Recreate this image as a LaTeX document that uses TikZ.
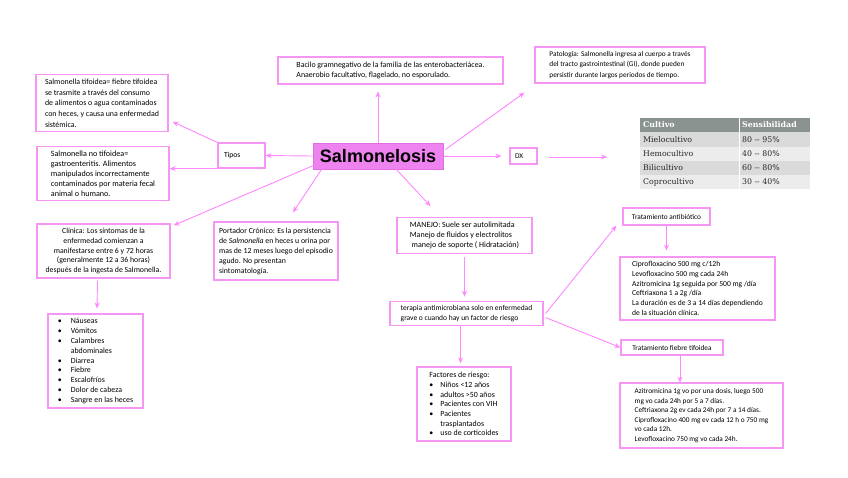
\documentclass[tikz,border=0pt]{standalone}
\usepackage{fontspec}
\setmainfont{Carlito}
\newfontfamily\titlefont{Liberation Sans}
\newfontfamily\tabfont{DejaVu Serif}
\usetikzlibrary{arrows.meta,calc}
\definecolor{boxpink}{RGB}{245,150,245}
\definecolor{linepink}{RGB}{255,135,255}
\definecolor{salfill}{RGB}{238,130,238}
\definecolor{salborder}{RGB}{225,110,225}
\definecolor{thead}{RGB}{138,147,143}
\definecolor{trowa}{RGB}{218,218,218}
\definecolor{trowb}{RGB}{236,236,236}
\newcommand{\bul}[1]{\makebox[#1][l]{\textbullet}}
\newcommand{\fs}[2]{\fontsize{#1}{#2}\selectfont}
\begin{document}
\begin{tikzpicture}[x=1pt,y=-1pt,
  box/.style={draw=boxpink, line width=1.2pt, fill=white, font=\fs{7.3}{10.5}, align=left, inner sep=4pt},
  con/.style={draw=linepink, line width=0.9pt, -{Stealth[length=6pt,width=5pt]}},
  cell/.style={font=\tabfont\fs{7.8}{8}, anchor=west, inner sep=0pt, text=black!85},
  hcell/.style={font=\tabfont\bfseries\fs{7.9}{8}, anchor=west, inner sep=0pt, text=white}
]
\useasboundingbox (0,0) rectangle (848,477);
\fill[white] (0,0) rectangle (848,477);

% central node
\node[draw=salborder, line width=1pt, fill=salfill, minimum width=130pt, minimum height=26pt,
      font=\titlefont\bfseries\fs{18}{20}] (sal) at (378,156) {Salmonelosis};

% boxes
\node[box, minimum width=132pt, minimum height=56pt, font=\fs{7.9}{10.7}] (tif) at (102,103)
 {Salmonella tifoidea= fiebre tifoidea\\
  se trasmite a través del consumo\\
  de alimentos o agua contaminados\\
  con heces, y causa una enfermedad\\
  sistémica.};
\node[box, minimum width=132pt, minimum height=53pt, font=\fs{8.1}{10}] (notif) at (103,173.5)
 {Salmonella no tifoidea=\\
  gastroenteritis. Alimentos\\
  manipulados incorrectamente\\
  contaminados por materia fecal\\
  animal o humano.};
\node[box, minimum width=47pt, minimum height=25pt, text width=35pt, font=\fs{7.6}{9}] (tipos) at (241.5,155.5) {Tipos};
\node[box, minimum width=225pt, minimum height=27pt, font=\fs{7.9}{10}] (bac) at (390.5,70.5)
 {Bacilo gramnegativo de la familia de las enterobacteriácea.\\
  Anaerobio facultativo, flagelado, no esporulado.};
\node[box, minimum width=170pt, minimum height=36pt] (pat) at (620,65)
 {Patología: Salmonella ingresa al cuerpo a través\\
  del tracto gastrointestinal (GI), donde pueden\\
  persistir durante largos periodos de tiempo.};
\node[box, minimum width=27pt, minimum height=16pt, text width=17pt] (dx) at (523.5,156) {DX};
\node[box, align=center, minimum width=133pt, minimum height=54pt, font=\fs{7.8}{9.8}] (clin) at (103.5,251)
 {Clínica: Los síntomas de la\\
  enfermedad comienzan a\\
  manifestarse entre 6 y 72 horas\\
  (generalmente 12 a 36 horas)\\
  después de la ingesta de Salmonella.};
\node[box, minimum width=95pt, minimum height=92pt, font=\fs{7.9}{9.9}] (symp) at (95.5,361)
 {\bul{13pt}Náuseas\\
  \bul{13pt}Vómitos\\
  \bul{13pt}Calambres\\
  \hspace*{13pt}abdominales\\
  \bul{13pt}Diarrea\\
  \bul{13pt}Fiebre\\
  \bul{13pt}Escalofríos\\
  \bul{13pt}Dolor de cabeza\\
  \bul{13pt}Sangre en las heces};
\node[box, minimum width=124pt, minimum height=58pt, font=\fs{7.8}{10}] (port) at (276,251)
 {Portador Crónico: Es la persistencia\\
  de \textit{Salmonella} en heces u orina por\\
  mas de 12 meses luego del episodio\\
  agudo. No presentan\\
  sintomatología.};
\node[box, minimum width=135pt, minimum height=35pt, font=\fs{8}{10.3}] (man) at (464.5,235.5)
 {MANEJO: Suele ser autolimitada\\
  Manejo de fluidos y electrolitos\\
  \ manejo de soporte ( Hidratación)};
\node[box, minimum width=153pt, minimum height=23pt, font=\fs{7.5}{10}] (ter) at (466.5,313.5)
 {terapia antimicrobiana solo en enfermedad\\
  grave o cuando hay un factor de riesgo};
\node[box, minimum width=94pt, minimum height=74pt, font=\fs{7.9}{9.7}] (fac) at (464,404)
 {Factores de riesgo:\\
  \bul{11pt}Niños <12 años\\
  \bul{11pt}adultos >50 años\\
  \bul{11pt}Pacientes con VIH\\
  \bul{11pt}Pacientes\\
  \hspace*{11pt}trasplantados\\
  \bul{11pt}uso de corticoides};
\node[box, minimum width=87pt, minimum height=17pt] (antib) at (666.5,216.5) {Tratamiento antibiótico};
\node[box, minimum width=155pt, minimum height=63pt, font=\fs{7.6}{9.7}] (antibtxt) at (697.5,288.5)
 {Ciprofloxacino 500 mg c/12h\\
  Levofloxacino 500 mg cada 24h\\
  Azitromicina 1g seguida por 500 mg /día\\
  Ceftriaxona 1 a 2g /día\\
  La duración es de 3 a 14 días dependiendo\\
  de la situación clínica.};
\node[box, minimum width=102pt, minimum height=15pt] (fiebre) at (672,347.5) {Tratamiento fiebre tifoidea};
\node[box, minimum width=163pt, minimum height=65pt, font=\fs{7.3}{9.5}] (fiebretxt) at (701.5,415.5)
 {Azitromicina 1g vo por una dosis, luego 500\\
  mg vo cada 24h por 5 a 7 días.\\
  Ceftriaxona 2g ev cada 24h por 7 a 14 días.\\
  Ciprofloxacino 400 mg ev cada 12 h o 750 mg\\
  vo cada 12h.\\
  Levofloxacino 750 mg vo cada 24h.};

% table
\fill[thead] (640,118) rectangle (810,132);
\fill[trowa] (640,132) rectangle (810,147);
\fill[trowb] (640,147) rectangle (810,161);
\fill[trowa] (640,161) rectangle (810,175);
\fill[trowb] (640,175) rectangle (810,189);
\draw[white, line width=0.8pt] (739,118) -- (739,189);
\node[hcell] (h1) at (643,125) {Cultivo};
\node[hcell] (h2) at (742,125) {Sensibilidad};
\node[cell] (c11) at (643,139.5) {Mielocultivo};
\node[cell] (c12) at (742,139.5) {80 -- 95\%};
\node[cell] (c21) at (643,154) {Hemocultivo};
\node[cell] (c22) at (742,154) {40 -- 80\%};
\node[cell] (c31) at (643,168) {Bilicultivo};
\node[cell] (c32) at (742,168) {60 -- 80\%};
\node[cell] (c41) at (643,182) {Coprocultivo};
\node[cell] (c42) at (742,182) {30 -- 40\%};
\coordinate (dxend) at (607,157);

% helper coordinates
\coordinate (bacend) at ($(sal.north)+(0,-51)$);
\coordinate (patend) at ($(pat.south west)+(-10,9)$);
\coordinate (patstart) at ($(sal.north east)+(2,7)$);
\coordinate (tifend) at ($(tif.south east)+(4,-10)$);
\coordinate (clinstart) at ($(sal.west)+(2,9)$);
\coordinate (clinend) at ($(clin.north east)+(3,2)$);
\coordinate (portstart) at ($(sal.south west)+(9,0)$);
\coordinate (portend) at ($(port.north)+(17,-9)$);
\coordinate (manstart) at ($(sal.south west)+(84,0)$);
\coordinate (manend) at ($(man.north)+(-34,-11)$);
\coordinate (clinbot) at ($(clin.south)+(-6,2)$);
\coordinate (sympend) at ($(symp.north)+(1.5,-5)$);
\coordinate (manbot) at ($(man.south)+(0,3)$);
\coordinate (terend) at ($(ter.north)+(-2,-4)$);
\coordinate (terbot) at ($(ter.south)+(-6,0)$);
\coordinate (facend) at ($(terbot)+(0,37)$);
\coordinate (terr1) at ($(ter.east)+(2,0)$);
\coordinate (terr2) at ($(ter.east)+(2,4)$);
\coordinate (antibend) at ($(antib.south west)+(-6,0)$);
\coordinate (antibtxtend) at ($(antib.south)+(0,25)$);
\coordinate (fiebrebot) at ($(fiebre.south)+(8,0)$);
\coordinate (fiebretxtend) at ($(fiebrebot)+(0,27)$);

% connectors
\draw[con] (sal.north) -- (bacend);
\draw[con] (patstart) -- (patend);
\draw[con, shorten >=8pt] (sal.east) -- (dx.west);
\draw[con, shorten <=11pt] (dx.east |- dxend) -- (dxend);
\draw[con] (sal.west) -- (tipos.east);
\draw[con] (tipos.north west) -- (tifend);
\draw[con] (tipos.south west) -- (tipos.south west -| notif.east);
\draw[con] (clinstart) -- (clinend);
\draw[con] (portstart) -- (portend);
\draw[con] (manstart) -- (manend);
\draw[con] (clinbot) -- (sympend);
\draw[con] (manbot) -- (terend);
\draw[con] (terbot) -- (facend);
\draw[con] (terr1) -- (antibend);
\draw[con] (terr2) -- (fiebre.west);
\draw[con] (antib.south) -- (antibtxtend);
\draw[con] (fiebrebot) -- (fiebretxtend);
\end{tikzpicture}
\end{document}
